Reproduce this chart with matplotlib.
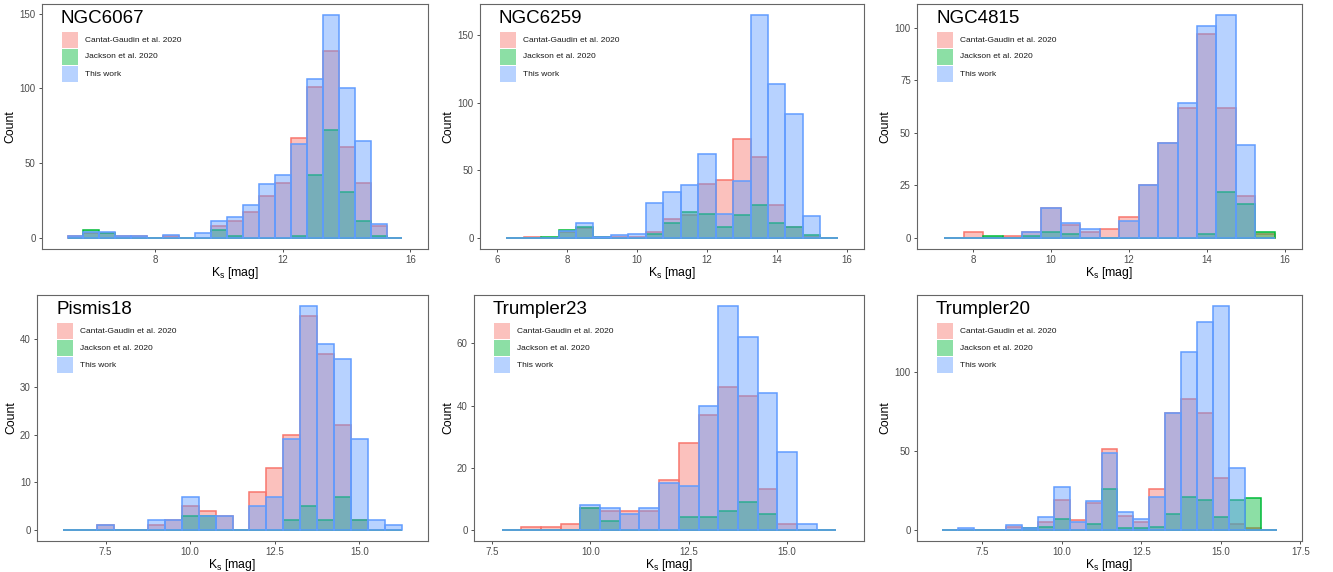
import numpy as np
import matplotlib
matplotlib.use("Agg")
import matplotlib.pyplot as plt
from matplotlib.patches import Rectangle

# ─── data (counts per 0.5 mag bin) ────────────────────────────────────────
clusters = ["NGC6067", "NGC6259", "NGC4815", "Pismis18", "Trumpler23", "Trumpler20"]
first_bin = [5.5, 6.5, 7.5, 6.5, 8.0, 6.5]   # centre of the first bin
bin_width = 0.5

cantat = [
    [1, 3, 3, 1, 1, 0, 1, 0, 0, 8, 11, 17, 28, 37, 67, 101, 125, 61, 37, 8, 0],
    [0, 1, 0, 4, 7, 1, 1, 1, 4, 14, 17, 40, 43, 73, 60, 24, 8, 1, 0],
    [0, 3, 0, 1, 3, 14, 6, 3, 4, 10, 25, 45, 62, 97, 62, 20, 2],
    [0, 0, 1, 0, 0, 1, 2, 5, 4, 3, 0, 8, 13, 20, 45, 37, 22, 2, 0, 0],
    [0, 1, 1, 2, 7, 6, 6, 6, 16, 28, 37, 46, 43, 13, 2, 0, 0],
    [0, 0, 0, 0, 2, 1, 5, 19, 6, 17, 51, 9, 5, 26, 74, 83, 74, 33, 4, 1, 0],
]
jackson = [
    [0, 5, 3, 0, 0, 0, 0, 0, 0, 5, 1, 0, 0, 0, 1, 42, 72, 31, 11, 1, 0],
    [0, 0, 1, 6, 8, 1, 0, 0, 3, 11, 19, 18, 8, 17, 24, 11, 8, 2, 0],
    [0, 0, 1, 0, 1, 3, 2, 0, 0, 0, 0, 0, 0, 2, 22, 16, 3],
    [0, 0, 0, 0, 0, 0, 0, 3, 3, 0, 0, 0, 0, 2, 5, 2, 7, 2, 0, 0],
    [0, 0, 0, 0, 7, 3, 0, 0, 0, 4, 4, 6, 9, 5, 0, 0, 0],
    [0, 0, 0, 0, 0, 1, 2, 7, 0, 4, 26, 1, 1, 2, 10, 21, 19, 8, 19, 20, 0],
]
this_work = [
    [1, 4, 4, 1, 1, 0, 2, 0, 3, 11, 14, 22, 36, 42, 63, 106, 149, 100, 65, 9, 0],
    [0, 0, 0, 5, 11, 1, 2, 3, 26, 34, 39, 62, 18, 42, 165, 114, 92, 16, 0],
    [0, 0, 0, 0, 3, 14, 7, 4, 0, 8, 25, 45, 64, 101, 106, 44, 0],
    [0, 0, 1, 0, 0, 2, 2, 7, 3, 3, 0, 5, 7, 19, 47, 39, 36, 19, 2, 1],
    [0, 0, 0, 0, 8, 7, 5, 7, 15, 14, 40, 72, 62, 44, 25, 2, 0],
    [0, 1, 0, 0, 3, 1, 8, 27, 5, 18, 49, 11, 7, 21, 74, 113, 132, 142, 39, 0, 0],
]
series_names = ["Cantat-Gaudin et al. 2020", "Jackson et al. 2020", "This work"]

xticks = [[8, 12, 16], [6, 8, 10, 12, 14, 16], [8, 10, 12, 14, 16],
          [7.5, 10.0, 12.5, 15.0], [7.5, 10.0, 12.5, 15.0], [7.5, 10.0, 12.5, 15.0, 17.5]]
yticks = [[0, 50, 100, 150], [0, 50, 100, 150], [0, 25, 50, 75, 100],
          [0, 10, 20, 30, 40], [0, 20, 40, 60], [0, 50, 100]]
xfmt = ["{:g}", "{:g}", "{:g}", "{:.1f}", "{:.1f}", "{:.1f}"]

# ─── style ────────────────────────────────────────────────────────────────
colors = ["#F8766D", "#00BA38", "#619CFF"]
ALPHA = 0.45
plt.rcParams["font.family"] = ["Liberation Sans", "DejaVu Sans"]
plt.rcParams["mathtext.fontset"] = "custom"
plt.rcParams["mathtext.rm"] = "Liberation Sans"
plt.rcParams["mathtext.default"] = "regular"

W, H = 1333, 572
fig = plt.figure(figsize=(W / 100, H / 100), dpi=100)
fig.patch.set_facecolor("white")

# panel boxes in pixels: left, top, right, bottom
boxes = [(42, 4, 428, 249), (480, 4, 864, 249), (917, 4, 1302, 249),
         (37, 295, 428, 541), (474, 295, 864, 541), (917, 295, 1302, 541)]

for k, name in enumerate(clusters):
    l, t, r, b = boxes[k]
    wpx, hpx = r - l, b - t
    ax = fig.add_axes([l / W, 1 - b / H, wpx / W, hpx / H])
    series = [cantat[k], jackson[k], this_work[k]]
    n = len(this_work[k])
    centers = first_bin[k] + bin_width * np.arange(n)

    for vals, c in zip(series, colors):
        ax.bar(centers, vals, width=bin_width, color=matplotlib.colors.to_rgba(c, ALPHA),
               edgecolor=c, linewidth=1.1)

    ymax = max(max(s) for s in series)
    ax.set_ylim(-0.05 * ymax, 1.05 * ymax)
    lo = centers[0] - bin_width / 2 - 0.25
    hi = centers[-1] + bin_width / 2 + 0.25
    pad = 0.05 * (hi - lo)
    ax.set_xlim(lo - pad, hi + pad)

    ax.set_xticks(xticks[k])
    ax.set_xticklabels([xfmt[k].format(v) for v in xticks[k]])
    ax.set_yticks(yticks[k])
    ax.tick_params(direction="out", length=2.5, width=0.6, color="#333333",
                   labelsize=7, labelcolor="#4D4D4D", pad=2)
    ax.tick_params(axis="x", pad=1.5)
    for sp in ax.spines.values():
        sp.set_color("#666666")
        sp.set_linewidth(0.8)

    ax.set_xlabel("K$_{s}$ [mag]", fontsize=8.8, labelpad=0)
    ax.set_ylabel("Count", fontsize=8.8, labelpad=2)

    ax.annotate(name, xy=(0, 1), xycoords="axes fraction", xytext=(19, -6),
                textcoords="offset pixels", ha="left", va="top", fontsize=13.5)

    # legend drawn by hand: 16 px keys, 17 px apart
    for i, (lab, c) in enumerate(zip(series_names, colors)):
        top = 28 + 17 * i
        ax.add_patch(Rectangle((20 / wpx, 1 - (top + 16) / hpx), 16 / wpx, 16 / hpx,
                               transform=ax.transAxes, clip_on=False,
                               facecolor=matplotlib.colors.to_rgba(c, ALPHA),
                               edgecolor="none"))
        ax.text(43 / wpx, 1 - (top + 8) / hpx, lab, transform=ax.transAxes,
                ha="left", va="center", fontsize=6, color="#1a1a1a")

fig.savefig("out.png", dpi=100)
